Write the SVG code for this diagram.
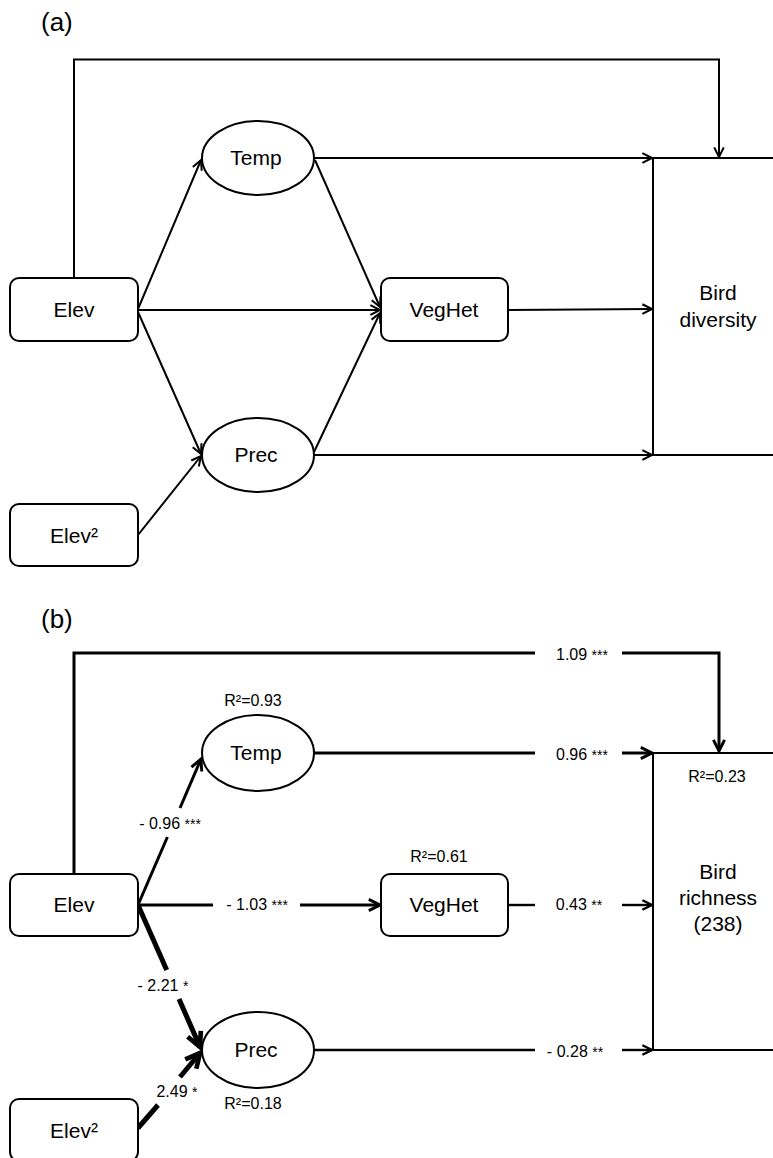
<svg xmlns="http://www.w3.org/2000/svg" width="773" height="1158" viewBox="0 0 773 1158">
<style>
text{font-family:"Liberation Sans",Arial,sans-serif;fill:#000}
.n{font-size:21px;text-anchor:middle}
.t{font-size:26px}
.l{font-size:16px;text-anchor:middle}
.s{font-size:14px}
.box{fill:#fff;stroke:#000;stroke-width:2}
.c{fill:none;stroke:#000;stroke-linejoin:miter}
.a{stroke-width:2}
.w3{stroke-width:3}
.w2{stroke-width:2.4}
.w5{stroke-width:5}
.mk{fill:none;stroke:#000;stroke-linejoin:miter;stroke-linecap:butt}
</style>
<defs>
<marker id="arrA" viewBox="0 0 10 10" refX="9" refY="5" markerWidth="12" markerHeight="12" markerUnits="userSpaceOnUse" orient="auto" overflow="visible"><path class="mk" d="M1,1 L9,5 L1,9" stroke-width="1.7"/></marker>
<marker id="arrB" viewBox="0 0 10 10" refX="9" refY="5" markerWidth="14" markerHeight="14" markerUnits="userSpaceOnUse" orient="auto" overflow="visible"><path class="mk" d="M1,1 L9,5 L1,9" stroke-width="2.1"/></marker>
<marker id="arrS" viewBox="0 0 10 10" refX="9" refY="5" markerWidth="12" markerHeight="12" markerUnits="userSpaceOnUse" orient="auto" overflow="visible"><path class="mk" d="M1,1 L9,5 L1,9" stroke-width="2"/></marker>
<marker id="arrC" viewBox="0 0 10 10" refX="9" refY="5" markerWidth="18" markerHeight="18" markerUnits="userSpaceOnUse" orient="auto" overflow="visible"><path class="mk" d="M1,1 L9,5 L1,9" stroke-width="2.6"/></marker>
</defs>
<rect width="773" height="1158" fill="#fff"/>

<text class="t" x="41" y="31">(a)</text>
<text class="t" x="41" y="628">(b)</text>

<g id="connectors">
  <!-- panel a -->
  <path class="c a" d="M74,278 V59.5 H719 V157" marker-end="url(#arrA)"/>
  <line class="c a" x1="314" y1="158" x2="652" y2="158" marker-end="url(#arrA)"/>
  <line class="c a" x1="138" y1="309" x2="201" y2="160" marker-end="url(#arrA)"/>
  <line class="c a" x1="138" y1="310" x2="380" y2="310" marker-end="url(#arrA)"/>
  <line class="c a" x1="138" y1="312" x2="201" y2="454" marker-end="url(#arrA)"/>
  <line class="c a" x1="315" y1="160" x2="380" y2="307" marker-end="url(#arrA)"/>
  <line class="c a" x1="314" y1="452" x2="380" y2="313" marker-end="url(#arrA)"/>
  <line class="c a" x1="508" y1="310" x2="652" y2="309" marker-end="url(#arrA)"/>
  <line class="c a" x1="314" y1="455" x2="652" y2="455" marker-end="url(#arrA)"/>
  <line class="c a" x1="138" y1="535" x2="201" y2="456" marker-end="url(#arrA)"/>

  <!-- panel b -->
  <path class="c w3" d="M74,873 V653 H535"/>
  <path class="c w3" d="M622,653 H719 V751" marker-end="url(#arrB)"/>
  <text class="l" x="582" y="660">1.09 <tspan class="s">***</tspan></text>

  <line class="c w3" x1="314" y1="753" x2="535" y2="753"/>
  <line class="c w3" x1="622" y1="753" x2="652" y2="753" marker-end="url(#arrB)"/>
  <text class="l" x="582" y="760">0.96 <tspan class="s">***</tspan></text>

  <line class="c w3" x1="138" y1="905" x2="167.4" y2="837"/>
  <line class="c w3" x1="180" y1="808" x2="201" y2="759" marker-end="url(#arrB)"/>
  <text class="l" x="170" y="829">- 0.96 <tspan class="s">***</tspan></text>

  <line class="c w3" x1="138" y1="905" x2="213" y2="905"/>
  <line class="c w3" x1="300" y1="905" x2="380" y2="905" marker-end="url(#arrB)"/>
  <text class="l" x="257" y="910">- 1.03 <tspan class="s">***</tspan></text>

  <line class="c w2" x1="509" y1="905" x2="535" y2="905"/>
  <line class="c w2" x1="622" y1="905" x2="652" y2="905" marker-end="url(#arrS)"/>
  <text class="l" x="579" y="910">0.43 <tspan class="s">**</tspan></text>

  <line class="c w5" x1="138" y1="905" x2="166.7" y2="970"/>
  <line class="c w5" x1="179" y1="999" x2="200" y2="1047" marker-end="url(#arrC)"/>
  <text class="l" x="163" y="991">- 2.21 <tspan class="s">*</tspan></text>

  <line class="c w2" x1="314" y1="1050" x2="535" y2="1050"/>
  <line class="c w2" x1="622" y1="1050" x2="652" y2="1050" marker-end="url(#arrS)"/>
  <text class="l" x="575" y="1057">- 0.28 <tspan class="s">**</tspan></text>

  <line class="c w5" x1="138" y1="1128" x2="158" y2="1105"/>
  <line class="c w5" x1="180" y1="1077" x2="200" y2="1053" marker-end="url(#arrC)"/>
  <text class="l" x="177" y="1097">2.49 <tspan class="s">*</tspan></text>
</g>

<!-- panel a nodes -->
<g id="a-elev"><rect class="box" x="10" y="278" width="128" height="63" rx="9"/><text class="n" x="74" y="317">Elev</text></g>
<g id="a-elev2"><rect class="box" x="10" y="504" width="128" height="62" rx="9"/><text class="n" x="74" y="543">Elev²</text></g>
<g id="a-temp"><ellipse class="box" cx="258" cy="158" rx="56" ry="37"/><text class="n" x="256" y="165">Temp</text></g>
<g id="a-prec"><ellipse class="box" cx="258" cy="455" rx="56" ry="37"/><text class="n" x="256" y="462">Prec</text></g>
<g id="a-veghet"><rect class="box" x="381" y="278" width="127" height="63" rx="9"/><text class="n" x="444" y="317">VegHet</text></g>
<g id="a-bird"><rect class="box" x="653" y="158" width="200" height="297"/><text class="n" x="718" y="300">Bird</text><text class="n" x="718" y="327">diversity</text></g>

<!-- panel b nodes -->
<g id="b-elev"><rect class="box" x="10" y="874" width="128" height="62" rx="9"/><text class="n" x="74" y="912">Elev</text></g>
<g id="b-elev2"><rect class="box" x="10" y="1099" width="128" height="62" rx="9"/><text class="n" x="74" y="1138">Elev²</text></g>
<g id="b-temp"><ellipse class="box" cx="258" cy="753" rx="56" ry="38"/><text class="n" x="256" y="760">Temp</text><text class="l" x="253" y="706">R²=0.93</text></g>
<g id="b-prec"><ellipse class="box" cx="258" cy="1050" rx="56" ry="38"/><text class="n" x="256" y="1057">Prec</text><text class="l" x="253" y="1109">R²=0.18</text></g>
<g id="b-veghet"><rect class="box" x="381" y="874" width="127" height="62" rx="9"/><text class="n" x="444" y="912">VegHet</text><text class="l" x="439" y="862">R²=0.61</text></g>
<g id="b-bird"><rect class="box" x="653" y="753" width="200" height="297"/><text class="l" x="717" y="782">R²=0.23</text><text class="n" x="718" y="879">Bird</text><text class="n" x="718" y="905">richness</text><text class="n" x="718" y="931">(238)</text></g>
</svg>
